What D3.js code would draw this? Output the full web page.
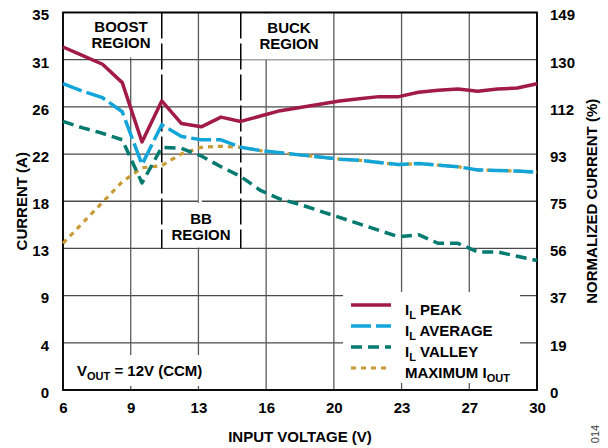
<!DOCTYPE html>
<html>
<head>
<meta charset="utf-8">
<script src="https://cdn.jsdelivr.net/npm/d3@7"></script>
<style>
  body { margin: 0; background: #fff; }
  text { font-family: "Liberation Sans", Arial, sans-serif; font-weight: bold; fill: #000; }
</style>
</head>
<body>
<div class="canvas"></div>
<script>
// input voltage (V)
const vin = [6, 7, 8, 9, 10, 11, 12, 13, 14, 15, 16, 17, 18, 19, 20, 21, 22, 23, 24, 25, 26, 27, 28, 29, 30]

// inductor currents (A)
const ilPeak = [31.8, 31.0, 30.2, 28.5, 23.0, 26.8, 24.7, 24.4, 25.3, 24.9, 25.4, 25.9, 26.2, 26.5, 26.8, 27.0, 27.2, 27.2, 27.6, 27.8, 27.9, 27.7, 27.9, 28.0, 28.4]
const ilAverage = [28.4, 27.7, 27.1, 25.8, 20.9, 24.6, 23.5, 23.2, 23.2, 22.5, 22.2, 22.0, 21.8, 21.6, 21.4, 21.3, 21.1, 20.9, 21.0, 20.85, 20.7, 20.4, 20.35, 20.3, 20.2]
const ilValley = [24.9, 24.3, 23.8, 23.2, 19.2, 22.5, 22.4, 21.7, 20.7, 19.8, 18.5, 17.7, 17.2, 16.6, 16.0, 15.4, 14.8, 14.2, 14.4, 13.6, 13.6, 12.8, 12.8, 12.4, 12.0]
const maxIout = [13.6, 15.5, 17.4, 19.3, 20.6, 20.8, 21.9, 22.5, 22.6, 22.5, 22.2, 22.0, 21.8, 21.6, 21.4, 21.3, 21.1, 20.9, 21.0, 20.85, 20.7, 20.4, 20.35, 20.3, 20.2]

// tick labels
const xTickLabels = ['6', '9', '13', '16', '20', '23', '27', '30']
const yTickLabels = ['0', '4', '9', '13', '18', '22', '26', '31', '35']
const y2TickLabels = ['0', '19', '37', '56', '75', '93', '112', '130', '149']

// region boundaries (V)
const boundaries = [11, 15]

const dims = { width: 608, height: 448 }
const plot = { left: 63, right: 537, top: 12.5, bottom: 390 }

const svg = d3.select('.canvas').append('svg')
  .attr('width', dims.width)
  .attr('height', dims.height)

const x = d3.scaleLinear().domain([6, 30]).range([plot.left, plot.right])
const y = d3.scaleLinear().domain([0, 35]).range([plot.bottom, plot.top])
const y2 = d3.scaleLinear().domain([0, 149]).range([plot.bottom, plot.top])

const xTicks = xTickLabels.map((d, i) => 6 + 24 * i / (xTickLabels.length - 1))
const yTicks = yTickLabels.map((d, i) => 35 * i / (yTickLabels.length - 1))
const y2Ticks = y2TickLabels.map((d, i) => 149 * i / (y2TickLabels.length - 1))

// grid
const grid = svg.append('g')
grid.selectAll('line.h')
  .data(yTicks)
  .enter().append('line')
  .attr('x1', plot.left).attr('x2', plot.right)
  .attr('y1', d => y(d)).attr('y2', d => y(d))
  .attr('stroke', '#4a4a4a').attr('stroke-width', 1.3)
grid.selectAll('line.v')
  .data(xTicks)
  .enter().append('line')
  .attr('y1', plot.top).attr('y2', plot.bottom)
  .attr('x1', d => x(d)).attr('x2', d => x(d))
  .attr('stroke', '#5a5a5a').attr('stroke-width', 1.3)

// white label boxes covering grid
const boxes = [
  [plot.left + 1, plot.top + 1, x(11) - plot.left - 1, 44],
  [x(15) + 1, plot.top + 1, x(19.7) - x(15) - 2, 46],
  [x(11) + 1, 203, x(15) - x(11) - 2, 44.5],
  [x(11) + 37, 155, 3, 48],
  [343, 292, 177, 91],
  [plot.left + 1, 355, 151, 31]
]
svg.append('g').selectAll('rect')
  .data(boxes)
  .enter().append('rect')
  .attr('x', d => d[0]).attr('y', d => d[1])
  .attr('width', d => d[2]).attr('height', d => d[3])
  .attr('fill', '#fff')

// region boundary lines
svg.append('g').selectAll('line')
  .data(boundaries)
  .enter().append('line')
  .attr('x1', d => x(d)).attr('x2', d => x(d))
  .attr('y1', plot.top).attr('y2', y(yTicks[3]))
  .attr('stroke', '#000').attr('stroke-width', 1.5)
  .attr('stroke-dasharray', '26,5')

// frame
svg.append('rect')
  .attr('x', plot.left).attr('y', plot.top)
  .attr('width', plot.right - plot.left).attr('height', plot.bottom - plot.top)
  .attr('fill', 'none').attr('stroke', '#000').attr('stroke-width', 1.8)

// axes labels
const xAxis = d3.axisBottom(x).tickValues(xTicks).tickSize(0).tickPadding(12)
  .tickFormat((d, i) => xTickLabels[i])
const yAxis = d3.axisLeft(y).tickValues(yTicks).tickSize(0).tickPadding(14)
  .tickFormat((d, i) => yTickLabels[i])
const y2Axis = d3.axisRight(y2).tickValues(y2Ticks).tickSize(0).tickPadding(13)
  .tickFormat((d, i) => y2TickLabels[i])

const styleAxis = g => {
  g.select('.domain').remove()
  g.selectAll('text').attr('font-size', 15)
    .attr('font-family', '"Liberation Sans", Arial, sans-serif')
}
svg.append('g').attr('transform', `translate(0, ${plot.bottom})`).call(xAxis).call(styleAxis)
svg.append('g').attr('transform', `translate(${plot.left}, 2.5)`).call(yAxis).call(styleAxis)
svg.append('g').attr('transform', `translate(${plot.right}, 2.5)`).call(y2Axis).call(styleAxis)

// axis titles
svg.append('text').attr('x', (plot.left + plot.right) / 2).attr('y', 442)
  .attr('text-anchor', 'middle').attr('font-size', 15).text('INPUT VOLTAGE (V)')
svg.append('text').attr('transform', `translate(27, ${(plot.top + plot.bottom) / 2}) rotate(-90)`)
  .attr('text-anchor', 'middle').attr('font-size', 15).text('CURRENT (A)')
svg.append('text').attr('transform', `translate(597, ${(plot.top + plot.bottom) / 2}) rotate(-90)`)
  .attr('text-anchor', 'middle').attr('font-size', 15).text('NORMALIZED CURRENT (%)')
svg.append('text').attr('transform', 'translate(599, 434) rotate(-90)')
  .attr('text-anchor', 'middle').attr('font-size', 11)
  .style('font-weight', 'normal').style('fill', '#444').text('014')

// region labels
const regionText = [
  ['BOOST', 121, 32], ['REGION', 121, 48],
  ['BUCK', 289, 33], ['REGION', 289, 49],
  ['BB', 201, 224], ['REGION', 201, 240]
]
svg.append('g').selectAll('text')
  .data(regionText)
  .enter().append('text')
  .attr('x', d => d[1]).attr('y', d => d[2])
  .attr('text-anchor', 'middle').attr('font-size', 15)
  .text(d => d[0])

// series
const series = [
  { name: 'peak', values: ilPeak, color: '#A11A48', dash: null, width: 3.5 },
  { name: 'average', values: ilAverage, color: '#12A5DA', dash: '20,5', width: 3.5 },
  { name: 'valley', values: ilValley, color: '#037A6F', dash: '11,6', width: 3.5 },
  { name: 'maxiout', values: maxIout, color: '#C99B35', dash: '5,5', width: 3.2 }
]
const line = d3.line()
  .x((d, i) => x(vin[i]))
  .y(d => y(d))

const drawOrder = [series[3], series[2], series[1], series[0]]
svg.append('g').selectAll('path')
  .data(drawOrder)
  .enter().append('path')
  .attr('d', d => line(d.values))
  .attr('fill', 'none')
  .attr('stroke', d => d.color)
  .attr('stroke-width', d => d.width)
  .attr('stroke-dasharray', d => d.dash)
  .attr('stroke-linejoin', 'round')

// legend
const legendGroup = svg.append('g')
const legendRows = legendGroup.selectAll('g')
  .data(series)
  .enter().append('g')
  .attr('transform', (d, i) => `translate(351, ${305 + i * 21})`)
legendRows.append('line')
  .attr('x1', 0).attr('x2', 40)
  .attr('stroke', d => d.color)
  .attr('stroke-width', d => d.width)
  .attr('stroke-dasharray', d => d.dash)

const legendLabels = [
  ['I', 'L', ' PEAK'],
  ['I', 'L', ' AVERAGE'],
  ['I', 'L', ' VALLEY'],
  ['MAXIMUM I', 'OUT', '']
]
legendRows.append('text')
  .attr('x', 54).attr('y', 9.5)
  .attr('font-size', 15)
  .each(function (d, i) {
    const t = d3.select(this)
    const parts = legendLabels[i]
    t.append('tspan').text(parts[0])
    t.append('tspan').attr('font-size', 11).attr('dy', 4).text(parts[1])
    if (parts[2]) t.append('tspan').attr('dy', -4).text(parts[2])
  })

// operating condition
const cond = svg.append('text').attr('x', 77).attr('y', 376).attr('font-size', 15)
cond.append('tspan').text('V')
cond.append('tspan').attr('font-size', 11).attr('dy', 4).text('OUT')
cond.append('tspan').attr('dy', -4).text(' = 12V (CCM)')
</script>
</body>
</html>
